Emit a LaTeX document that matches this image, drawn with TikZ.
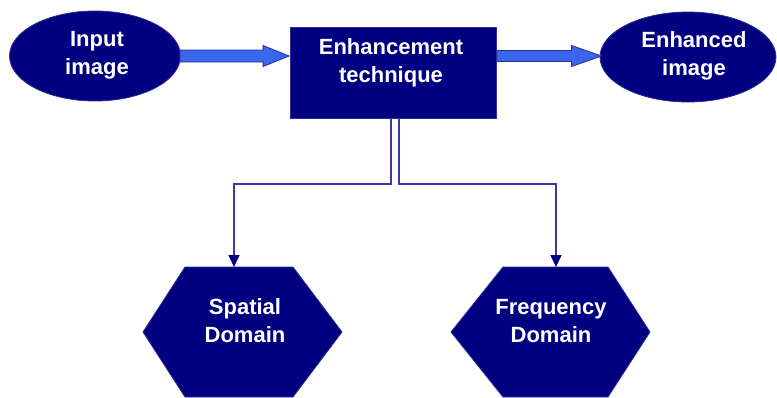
\documentclass[tikz,border=0pt]{standalone}
\usepackage{fontspec}
\setmainfont{Liberation Sans}
\usetikzlibrary{shapes.geometric,arrows.meta,calc}
\definecolor{navyfill}{HTML}{000080}
\definecolor{navyedge}{HTML}{2E2E95}
\definecolor{linkcol}{HTML}{3A3AA0}
\definecolor{bigblue}{HTML}{3A66EE}
\tikzset{
  lbl/.style={text=white, font=\bfseries\fontsize{22}{28}\selectfont, align=center},
  oval/.style={ellipse, fill=navyfill, draw=navyedge, line width=0.8pt, minimum width=#1, minimum height=90pt, inner sep=0pt},
  techbox/.style={rectangle, fill=navyfill, draw=navyedge, line width=0.8pt, minimum width=206pt, minimum height=91pt, inner sep=0pt},
  hexfill/.style={fill=navyfill, draw=navyedge, line width=0.8pt},
  link/.style={draw=linkcol, line width=1.6pt, -{Triangle[length=12pt,width=11pt,color=navyfill]}},
  bigarr/.style={fill=bigblue, draw=navyedge, line width=0.8pt, line join=miter}
}
\begin{document}
\begin{tikzpicture}[x=1pt,y=-1pt]
\useasboundingbox (0,0) rectangle (777,397);
\fill[white] (0,0) rectangle (777,397);

% nodes
\node[oval=171pt] (in) at (95,56) {};
\node[lbl] (intext) at (97,55) {Input\\image};
\node[oval=176pt] (out) at (688,57) {};
\node[lbl] (outtext) at (694,56) {Enhanced\\image};
\node[techbox] (tech) at (393.5,72.5) {};
\node[lbl] (techtext) at (391,63) {Enhancement\\technique};

% hexagons
\path[hexfill] (185,267) -- (293,267) -- (342,332) -- (293,397) -- (185,397) -- (143,332) -- cycle;
\coordinate (spTop) at (234,267);
\node[lbl] (sptext) at (245,321) {Spatial\\Domain};
\path[hexfill] (503,267) -- (608,267) -- (650,332) -- (608,397) -- (503,397) -- (451,332) -- cycle;
\coordinate (frTop) at (556,267);
\node[lbl] (frtext) at (551,321) {Frequency\\Domain};

% thick arrows
\path let \p1=(in.east), \p2=(tech.west) in
  [bigarr] (\x1-1pt,\y1+6pt) -- (\x2-27pt,\y1+6pt) -- (\x2-27pt,\y1+10.5pt) -- (\x2-1pt,\y1) -- (\x2-27pt,\y1-10.5pt) -- (\x2-27pt,\y1-6pt) -- (\x1-1pt,\y1-6pt) -- cycle;
\path let \p1=(tech.east), \p2=(out.west) in
  [bigarr] (\x1,\y1+22pt) -- (\x2-28pt,\y1+22pt) -- (\x2-28pt,\y1+27pt) -- (\x2+2pt,\y1+16.5pt) -- (\x2-28pt,\y1+6pt) -- (\x2-28pt,\y1+11pt) -- (\x1,\y1+11pt) -- cycle;

% connectors
\coordinate (lsplit) at (391,118);
\coordinate (rsplit) at (399,118);
\draw[link] (lsplit) -- (391,184) -- (234,184) -- (spTop);
\draw[link] (rsplit) -- (399,184) -- (556,184) -- (frTop);
\end{tikzpicture}
\end{document}
